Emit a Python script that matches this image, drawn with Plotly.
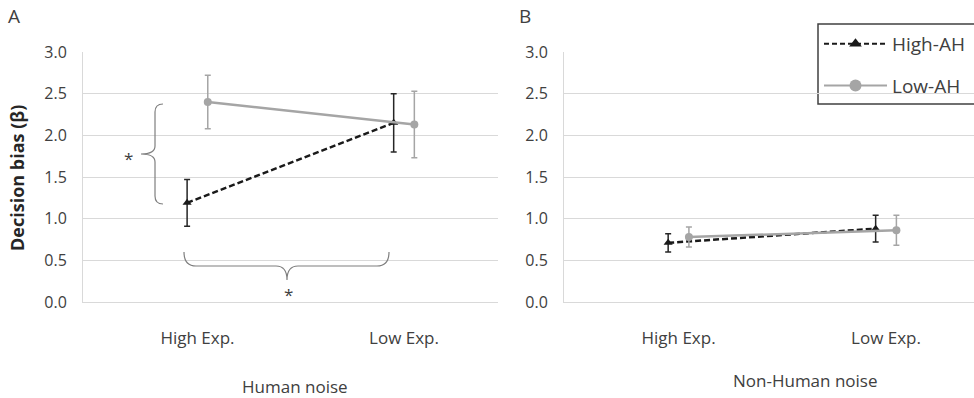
import plotly.graph_objects as go

W, H = 974, 398

categories = ["High Exp.", "Low Exp."]
y_ticks = [0.0, 0.5, 1.0, 1.5, 2.0, 2.5, 3.0]
y_tick_labels = ["0.0", "0.5", "1.0", "1.5", "2.0", "2.5", "3.0"]

# Panel A: Human noise
human_high_ah = [1.19, 2.15]
human_high_ah_err = [0.28, 0.35]
human_low_ah = [2.40, 2.13]
human_low_ah_err = [0.32, 0.40]

# Panel B: Non-Human noise
nonhuman_high_ah = [0.71, 0.88]
nonhuman_high_ah_err = [0.11, 0.16]
nonhuman_low_ah = [0.78, 0.86]
nonhuman_low_ah_err = [0.12, 0.18]

series_names = ["High-AH", "Low-AH"]
panel_titles = ["Human noise", "Non-Human noise"]

FONT = "Open Sans"
TXT = "#404040"
GRID = "#d9d9d9"
DARK = "#1a1a1a"
GREY = "#a5a5a5"
OFF = 0.05


def px(x):
    return x / W


def py(y):
    return 1 - y / H


fig = go.Figure()

panels = [
    ("x", "y", human_high_ah, human_high_ah_err, human_low_ah, human_low_ah_err),
    ("x2", "y2", nonhuman_high_ah, nonhuman_high_ah_err, nonhuman_low_ah, nonhuman_low_ah_err),
]
xpos = list(range(len(categories)))
for xa, ya, hi, hie, lo, loe in panels:
    fig.add_trace(go.Scatter(
        x=[v - OFF for v in xpos], y=hi, xaxis=xa, yaxis=ya,
        mode="lines+markers", showlegend=False,
        line=dict(color=DARK, width=2.5, dash="6px,3px"),
        marker=dict(symbol="triangle-up", size=8, color=DARK),
        error_y=dict(type="data", array=hie, color="#262626", thickness=1.5, width=3),
    ))
    fig.add_trace(go.Scatter(
        x=[v + OFF for v in xpos], y=lo, xaxis=xa, yaxis=ya,
        mode="lines+markers", showlegend=False,
        line=dict(color=GREY, width=2.5),
        marker=dict(symbol="circle", size=8, color=GREY),
        error_y=dict(type="data", array=loe, color=GREY, thickness=1.5, width=3),
    ))

# legend entries
fig.add_trace(go.Scatter(
    x=[None], y=[None], name=series_names[0], mode="lines+markers",
    legendgroup="a", line=dict(color=DARK, width=2, dash="5px,3px"),
    marker=dict(symbol="triangle-up", size=11, color=DARK)))
fig.add_trace(go.Scatter(
    x=[None], y=[None], name=series_names[1], mode="lines+markers",
    legendgroup="b", line=dict(color=GREY, width=2),
    marker=dict(symbol="circle", size=12, color=GREY)))

axis_common = dict(
    tickvals=xpos, ticktext=categories, showgrid=False, zeroline=False,
    showline=True, linecolor=GRID, linewidth=1, ticks="",
    tickfont=dict(family=FONT, size=17, color=TXT), ticklabelstandoff=21,
)
yaxis_common = dict(
    range=[0, 3], tickvals=y_ticks, ticktext=y_tick_labels,
    showgrid=True, gridcolor=GRID, gridwidth=1, zeroline=False,
    showline=True, linecolor=GRID, linewidth=1, ticks="",
    tickfont=dict(family=FONT, size=16, color=TXT), ticklabelstandoff=12,
    domain=[py(302), py(52)],
)

fig.update_layout(
    width=W, height=H, margin=dict(l=0, r=0, t=0, b=0, autoexpand=False),
    paper_bgcolor="white", plot_bgcolor="white",
    font=dict(family=FONT, color=TXT),
    xaxis=dict(axis_common, domain=[px(83), px(498)], range=[-0.554, 1.455], anchor="y"),
    yaxis=dict(yaxis_common, anchor="x"),
    xaxis2=dict(axis_common, domain=[px(564), 1.0], range=[-0.552, 1.424], anchor="y2"),
    yaxis2=dict(yaxis_common, anchor="x2"),
    legend=dict(
        x=px(819), y=py(25), xanchor="left", yanchor="top",
        borderwidth=0, bgcolor="rgba(255,255,255,0)",
        font=dict(family=FONT, size=19, color=TXT),
        itemwidth=63, tracegroupgap=14,
    ),
    showlegend=True,
)

# legend frame (runs past the right edge, as in the original)
fig.add_shape(type="rect", xref="paper", yref="paper",
              x0=px(818), x1=px(990), y0=py(104), y1=py(24),
              line=dict(color="#404040", width=1.5), fillcolor="rgba(0,0,0,0)",
              layer="below")

ann = [
    dict(text="A", x=px(14), y=py(16), font=dict(size=19)),
    dict(text="B", x=px(525), y=py(16), font=dict(size=19)),
    dict(text="Decision bias (β)", x=px(17), y=py(178), textangle=-90,
         font=dict(size=18, color="#262626", family=FONT, weight="bold")),
    dict(text=panel_titles[0], x=px(295), y=py(386), font=dict(size=17)),
    dict(text=panel_titles[1], x=px(805), y=py(380), font=dict(size=17)),
    dict(text="*", x=px(128), y=py(158), font=dict(size=17)),
    dict(text="*", x=px(288), y=py(294), font=dict(size=17)),
]
for a in ann:
    f = dict(family=FONT, color=TXT)
    f.update(a.pop("font"))
    fig.add_annotation(xref="paper", yref="paper", showarrow=False,
                       xanchor="center", yanchor="middle", font=f, **a)


def P(x, y):
    return f"{px(x):.5f},{py(y):.5f}"


# vertical brace (panel A)
vb = (f"M {P(163,104)} Q {P(155,104)} {P(155,112)} L {P(155,146)} "
      f"Q {P(155,154)} {P(141,154)} Q {P(155,154)} {P(155,162)} "
      f"L {P(155,196)} Q {P(155,204)} {P(163,204)}")
# horizontal brace (panel A)
hb = (f"M {P(184,252)} Q {P(184,266)} {P(196,266)} L {P(276,266)} "
      f"Q {P(287,266)} {P(287,280)} Q {P(287,266)} {P(298,266)} "
      f"L {P(377,266)} Q {P(389,266)} {P(389,252)}")
for p in (vb, hb):
    fig.add_shape(type="path", path=p, xref="paper", yref="paper",
                  line=dict(color="#7f7f7f", width=1.2))

fig.write_html(
    "out.html",
    config={"displayModeBar": False},
    post_script="document.body.style.margin='0';document.body.style.overflow='hidden';",
)
